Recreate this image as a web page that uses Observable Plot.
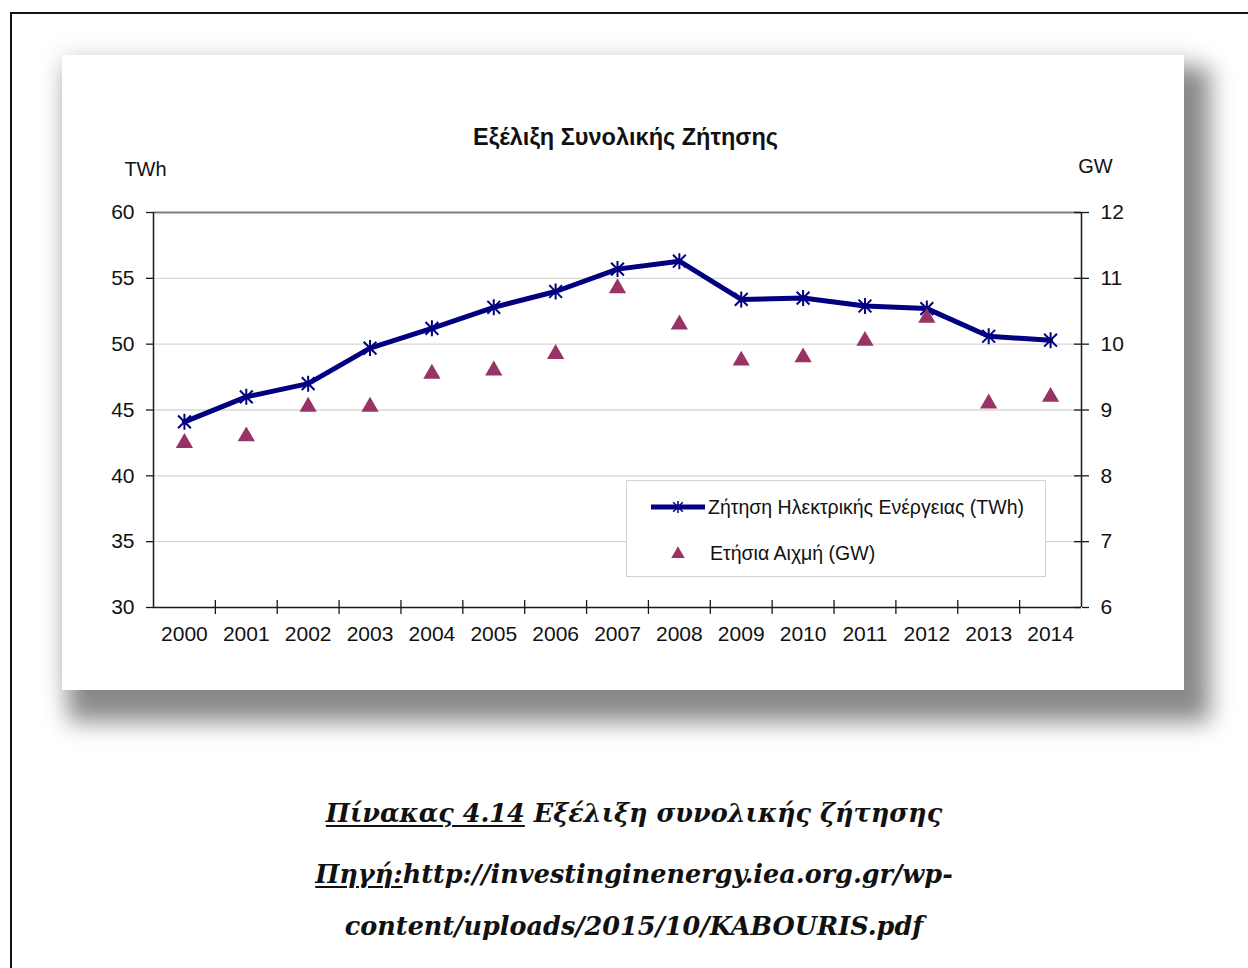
<!DOCTYPE html>
<html>
<head>
<meta charset="utf-8">
<script src="https://cdn.jsdelivr.net/npm/d3@7"></script>
<script src="https://cdn.jsdelivr.net/npm/@observablehq/plot@0.6"></script>
<style>
  html, body { margin: 0; padding: 0; background: #fff; }
  body { position: relative; width: 1248px; height: 968px; overflow: hidden; font-family: "Liberation Sans", Arial, sans-serif; color: #111; }
  #frame { position: absolute; left: 10px; top: 12px; width: 1300px; height: 1000px; border-left: 2px solid #111; border-top: 2px solid #111; }
  #card { position: absolute; left: 62px; top: 55px; width: 1122px; height: 635px; background: #fff;
          box-shadow: 16px 22px 22px 10px rgba(0,0,0,0.45), 0 0 24px 6px rgba(0,0,0,0.05); }
  #card svg { position: absolute; left: 0; top: 0; }
  #legend { position: absolute; left: 564px; top: 425px; width: 418px; height: 95px; border: 1px solid #d3d3d3; background: #fff; font-size: 19.5px; }
  #legend .row { position: absolute; left: 0; height: 30px; display: flex; align-items: center; }
  #legend svg { position: static; }
  .cap { position: absolute; left: 10px; width: 1248px; text-align: center; font-family: "DejaVu Serif", "Liberation Serif", serif;
         font-style: italic; font-weight: bold; font-size: 25.5px; color: #111; line-height: 1; }
  .cap u { text-decoration-thickness: 2px; text-underline-offset: 3px; }
</style>
</head>
<body>
<div id="frame"></div>
<div id="card">
  <div id="legend"></div>
</div>
<div class="cap" style="top:801px"><u>Πίνακας 4.14</u> Εξέλιξη συνολικής ζήτησης</div>
<div class="cap" style="top:862px"><u>Πηγή:</u>http://investinginenergy.iea.org.gr/wp-</div>
<div class="cap" style="top:914px">content/uploads/2015/10/KABOURIS.pdf</div>

<script>
// Annual electricity demand (TWh, left axis) and annual peak load (GW, right axis)
const years = [2000, 2001, 2002, 2003, 2004, 2005, 2006, 2007, 2008, 2009, 2010, 2011, 2012, 2013, 2014];
const demandTWh = [44.1, 46.0, 47.0, 49.7, 51.2, 52.8, 54.0, 55.7, 56.3, 53.4, 53.5, 52.9, 52.7, 50.6, 50.3];
const peakGW = [8.5, 8.6, 9.05, 9.05, 9.55, 9.6, 9.85, 10.85, 10.3, 9.75, 9.8, 10.05, 10.4, 9.1, 9.2];
const twhTicks = [30, 35, 40, 45, 50, 55, 60];
const gwTicks = [6, 7, 8, 9, 10, 11, 12];

const chartTitle = "Εξέλιξη Συνολικής Ζήτησης";
const leftUnit = "TWh";
const rightUnit = "GW";
const seriesNames = ["Ζήτηση Ηλεκτρικής Ενέργειας (TWh)", "Ετήσια Αιχμή (GW)"];

const lineColor = "#000080";
const peakColor = "#993366";

// The GW axis shares the plot's y scale: map GW onto the TWh range
const gwToTwh = gw => twhTicks[0] + (gw - gwTicks[0]) *
  (twhTicks[twhTicks.length - 1] - twhTicks[0]) / (gwTicks[gwTicks.length - 1] - gwTicks[0]);

const demand = years.map((year, i) => ({year, value: demandTWh[i]}));
const peak = years.map((year, i) => ({year, value: peakGW[i]}));
// category boundaries (ticks sit between the years)
const bounds = d3.range(years.length + 1).map(i => years[0] - 0.5 + i);

// Star marker: a cross with a vertical stroke
const star = {
  draw(ctx, size) {
    const r = Math.sqrt(size / Math.PI);
    const d = r * 0.8;
    ctx.moveTo(0, -r); ctx.lineTo(0, r);
    ctx.moveTo(-d, -d); ctx.lineTo(d, d);
    ctx.moveTo(-d, d); ctx.lineTo(d, -d);
  }
};

const yMin = twhTicks[0], yMax = twhTicks[twhTicks.length - 1];
const xMin = bounds[0], xMax = bounds[bounds.length - 1];

const chart = Plot.plot({
  width: 1122,
  height: 635,
  marginLeft: 91,
  marginRight: 103,
  marginTop: 157,
  marginBottom: 83,
  style: {fontFamily: "'Liberation Sans', Arial, sans-serif", fontSize: "21px", color: "#111", background: "transparent", overflow: "visible"},
  x: {domain: [xMin, xMax]},
  y: {domain: [yMin, yMax]},
  marks: [
    // gridlines and top border
    Plot.ruleY(twhTicks.slice(1, -1), {stroke: "#d6d6d6", strokeWidth: 1.3}),
    Plot.ruleY([yMax], {stroke: "#7d7d7d", strokeWidth: 2}),
    // axis lines
    Plot.ruleX([xMin, xMax], {stroke: "#1a1a1a", strokeWidth: 1.5}),
    Plot.ruleY([yMin], {stroke: "#1a1a1a", strokeWidth: 1.5}),
    // category boundary ticks crossing the x axis
    Plot.ruleX(bounds.slice(1, -1), {y1: yMin, y2: yMin, insetTop: -7, insetBottom: -7, stroke: "#1a1a1a", strokeWidth: 1.3}),
    // right axis ticks cross into the plot
    Plot.ruleY(twhTicks, {x1: xMax, x2: xMax, insetLeft: -7, stroke: "#1a1a1a", strokeWidth: 1.3}),
    Plot.axisY(twhTicks, {anchor: "left", tickSize: 7, tickPadding: 12, label: null, stroke: "#1a1a1a", strokeWidth: 1.3, tickFormat: d => String(d)}),
    Plot.axisY(twhTicks, {anchor: "right", tickSize: 7, tickPadding: 12, label: null, stroke: "#1a1a1a", strokeWidth: 1.3, tickFormat: d => String(gwTicks[twhTicks.indexOf(d)])}),
    Plot.axisX(years, {anchor: "bottom", tickSize: 0, tickPadding: 19, label: null, tickFormat: d => String(d)}),
    // series
    Plot.line(demand, {x: "year", y: "value", stroke: lineColor, strokeWidth: 5, strokeLinejoin: "round"}),
    Plot.dot(demand, {x: "year", y: "value", symbol: star, r: 8, fill: "none", stroke: lineColor, strokeWidth: 2}),
    Plot.dot(peak, {x: "year", y: d => gwToTwh(d.value), symbol: "triangle", r: 6.4, fill: peakColor, stroke: "none"}),
    // title and axis units
    Plot.text([chartTitle], {frameAnchor: "top", dx: 8, dy: -84, textAnchor: "middle", fontWeight: "bold", fontSize: 23.5}),
    Plot.text([leftUnit], {frameAnchor: "top-left", dx: -8, dy: -51, textAnchor: "middle", fontSize: 20}),
    Plot.text([rightUnit], {frameAnchor: "top-right", dx: 14, dy: -54, textAnchor: "middle", fontSize: 20})
  ]
});
document.getElementById("card").prepend(chart);

// Legend
const legend = d3.select("#legend");
const row1 = legend.append("div").attr("class", "row").style("top", "11px").style("left", "22px");
const s1 = row1.append("svg").attr("width", 58).attr("height", 30);
s1.append("line").attr("x1", 2).attr("x2", 56).attr("y1", 15).attr("y2", 15).attr("stroke", lineColor).attr("stroke-width", 5);
s1.append("path").attr("transform", "translate(29,15)").attr("d", d3.symbol(star, Math.PI * 6 * 6)())
  .attr("fill", "none").attr("stroke", lineColor).attr("stroke-width", 1.5);
row1.append("span").text(seriesNames[0]).style("margin-left", "1px");

const row2 = legend.append("div").attr("class", "row").style("top", "57px").style("left", "22px");
const s2 = row2.append("svg").attr("width", 58).attr("height", 30);
s2.append("path").attr("transform", "translate(29,16)").attr("d", d3.symbol(d3.symbolTriangle, Math.PI * 5 * 5)())
  .attr("fill", peakColor);
row2.append("span").text(seriesNames[1]).style("margin-left", "3px");
</script>
</body>
</html>
